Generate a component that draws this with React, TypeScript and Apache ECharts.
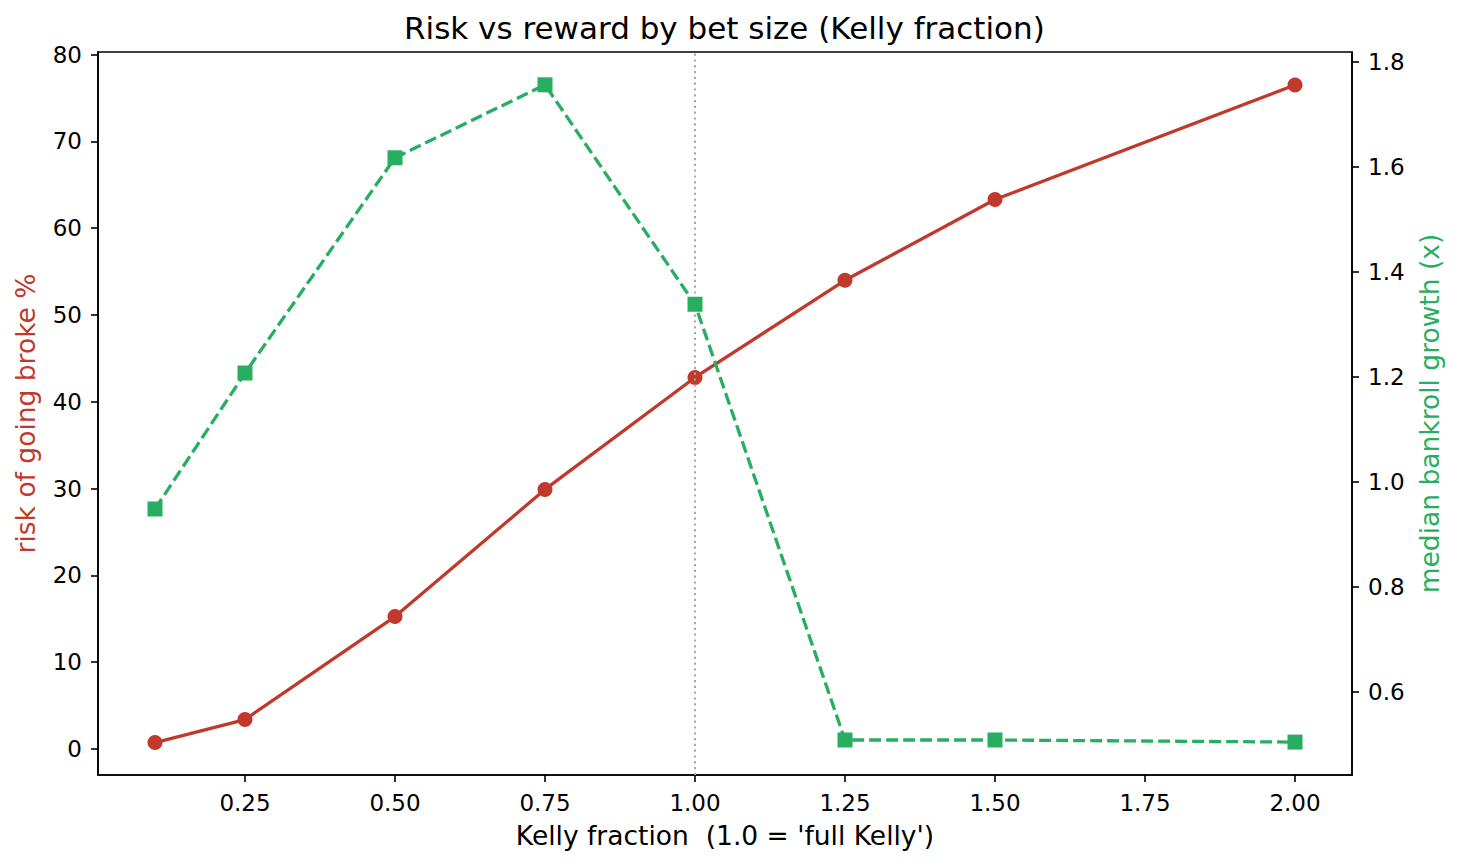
import { useEffect, useRef } from 'react';
import * as echarts from 'echarts';

const kellyFractions = [0.1, 0.25, 0.5, 0.75, 1.0, 1.25, 1.5, 2.0];
const riskOfRuin = [0.74, 3.39, 15.25, 29.9, 42.8, 54.0, 63.3, 76.5];
const medianGrowth = [0.948, 1.207, 1.617, 1.756, 1.338, 0.508, 0.508, 0.504];

const xTicks = [0.25, 0.5, 0.75, 1.0, 1.25, 1.5, 1.75, 2.0];
const leftTicks = [0, 10, 20, 30, 40, 50, 60, 70, 80];
const rightTicks = [0.6, 0.8, 1.0, 1.2, 1.4, 1.6, 1.8];

const RED = '#c0392b';
const GREEN = '#27ae60';
const FONT = "'DejaVu Sans', sans-serif";

export default function App() {
  const chartRef = useRef<HTMLDivElement>(null);

  useEffect(() => {
    if (!chartRef.current) return;
    const chart = echarts.init(chartRef.current, undefined, { renderer: 'svg' });

    const axisTick = { show: true, inside: false, length: 7, lineStyle: { color: '#000', width: 1.6 } };
    const tickLabel = { color: '#000', fontSize: 23, fontFamily: FONT, margin: 16 };

    const option: echarts.EChartsOption = {
      animation: false,
      backgroundColor: '#fff',
      title: {
        text: 'Risk vs reward by bet size (Kelly fraction)',
        left: 399,
        top: 7,
        textStyle: { color: '#000', fontSize: 31, fontWeight: 'normal', fontFamily: FONT },
      },
      grid: {
        left: 98,
        right: 106,
        top: 52,
        bottom: 91,
        show: true,
        borderColor: '#000',
        borderWidth: 1.6,
        backgroundColor: 'transparent',
      },
      xAxis: {
        type: 'value',
        min: 0.005,
        max: 2.095,
        name: "Kelly fraction  (1.0 = 'full Kelly')",
        nameLocation: 'middle',
        nameGap: 47,
        nameTextStyle: { color: '#000', fontSize: 26.5, fontFamily: FONT },
        axisLine: { show: true, onZero: false, lineStyle: { color: '#000', width: 1.6 } },
        axisTick: { ...axisTick, customValues: xTicks },
        axisLabel: {
          ...tickLabel,
          customValues: xTicks,
          formatter: (v: number) => v.toFixed(2),
        },
        splitLine: { show: false },
      },
      yAxis: [
        {
          type: 'value',
          position: 'left',
          min: -3.0,
          max: 80.3,
          name: 'risk of going broke %',
          nameLocation: 'middle',
          nameGap: 59,
          nameTextStyle: { color: RED, fontSize: 26.5, fontFamily: FONT },
          axisLine: { show: true, onZero: false, lineStyle: { color: '#000', width: 1.6 } },
          axisTick: { ...axisTick, customValues: leftTicks },
          axisLabel: { ...tickLabel, customValues: leftTicks, formatter: (v: number) => String(Math.round(v)) },
          splitLine: { show: false },
        },
        {
          type: 'value',
          position: 'right',
          min: 0.4413,
          max: 1.8185,
          name: 'median bankroll growth (x)',
          nameLocation: 'middle',
          nameGap: 64,
          nameTextStyle: { color: GREEN, fontSize: 26.5, fontFamily: FONT },
          axisLine: { show: true, onZero: false, lineStyle: { color: '#000', width: 1.6 } },
          axisTick: { ...axisTick, customValues: rightTicks },
          axisLabel: { ...tickLabel, customValues: rightTicks, formatter: (v: number) => v.toFixed(1) },
          splitLine: { show: false },
        },
      ],
      series: [
        {
          type: 'line',
          yAxisIndex: 0,
          data: kellyFractions.map((x, i) => [x, riskOfRuin[i]]),
          symbol: 'circle',
          symbolSize: 15,
          lineStyle: { color: RED, width: 3.3 },
          itemStyle: { color: RED },
          z: 2,
          markLine: {
            silent: true,
            symbol: ['none', 'none'],
            label: { show: false },
            lineStyle: { color: '#a8a8a8', width: 2, type: [2.2, 3.6] },
            data: [{ xAxis: 1.0 }],
            z: 3,
          },
        },
        {
          type: 'line',
          yAxisIndex: 1,
          data: kellyFractions.map((x, i) => [x, medianGrowth[i]]),
          symbol: 'rect',
          symbolSize: 15,
          lineStyle: { color: GREEN, width: 3.3, type: [12, 5] },
          itemStyle: { color: GREEN },
          z: 4,
        },
      ],
    };

    chart.setOption(option);
    return () => {
      chart.dispose();
    };
  }, []);

  return (
    <div
      ref={chartRef}
      style={{ position: 'absolute', left: 0, top: 0, width: '1458px', height: '866px' }}
    />
  );
}
